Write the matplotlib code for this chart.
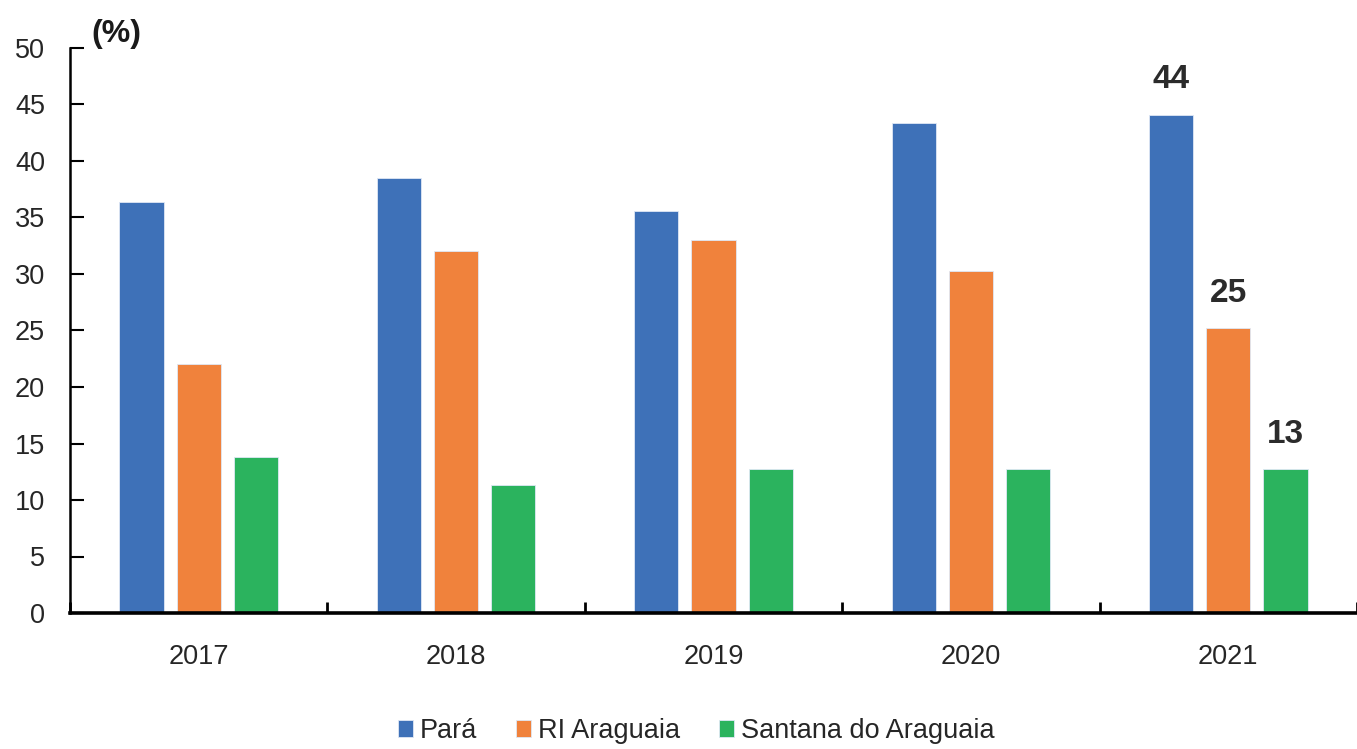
import matplotlib
matplotlib.use("Agg")
import matplotlib.pyplot as plt
import numpy as np

plt.rcParams['font.family'] = ['Liberation Sans', 'DejaVu Sans']

# dados
anos = ['2017', '2018', '2019', '2020', '2021']
para = [36.4, 38.5, 35.6, 43.4, 44.1]
ri_araguaia = [22.0, 32.0, 33.0, 30.3, 25.2]
santana = [13.8, 11.3, 12.7, 12.7, 12.7]
series = ['Pará', 'RI Araguaia', 'Santana do Araguaia']
rotulos_2021 = ['44', '25', '13']

cores = ['#3E71B8', '#F0823C', '#2BB35E']

fig = plt.figure(figsize=(13.57, 7.49), dpi=100)
ax = fig.add_axes([70 / 1357, 136 / 749, 1287 / 1357, 565 / 749])

x = np.arange(len(anos))
largura = 0.172
desloc = 0.222
valores = [para, ri_araguaia, santana]

for i, (nome, vals) in enumerate(zip(series, valores)):
    ax.bar(x + (i - 1) * desloc, vals, largura, color=cores[i],
           edgecolor='#dfe8f5', linewidth=0.6, label=nome)
    # rotulo so no ultimo ano
    ax.annotate(rotulos_2021[i], (x[-1] + (i - 1) * desloc, vals[-1]),
                xytext=(0, 14), textcoords='offset points',
                ha='center', va='bottom', fontsize=24, fontweight='bold',
                color='#2b2b2b')

ax.set_ylim(0, 50)
ax.set_yticks(range(0, 51, 5))
ax.set_xlim(-0.5, -0.5 + 1287 / 259.5)

# marcas do eixo x entre as categorias
ax.set_xticks(np.arange(-0.5, len(anos) + 0.5, 1))
ax.set_xticklabels([])
ax.set_xticks(x, minor=True)
ax.set_xticklabels(anos, minor=True)
ax.tick_params(axis='x', which='major', direction='in', length=8, width=2)
ax.tick_params(axis='x', which='minor', length=0, pad=22, labelsize=19.5,
               labelcolor='#262626')
ax.tick_params(axis='y', direction='in', length=10, width=1.5, pad=18,
               labelsize=19.5, labelcolor='#262626')

for lado in ['top', 'right']:
    ax.spines[lado].set_visible(False)
ax.spines['left'].set_linewidth(1.8)
ax.spines['bottom'].set_linewidth(2.6)

fig.text(91 / 1357, 1 - 34 / 749, '(%)', fontsize=23, fontweight='bold',
         va='center', ha='left', color='#1a1a1a')

ax.legend(loc='center', bbox_to_anchor=(696 / 1357, 1 - 731 / 749),
          bbox_transform=fig.transFigure, ncol=3, frameon=False,
          fontsize=19.5, handlelength=0.55, handleheight=0.55,
          handletextpad=0.25, columnspacing=1.45, labelcolor='#262626')

fig.savefig('out.png', dpi=100)
